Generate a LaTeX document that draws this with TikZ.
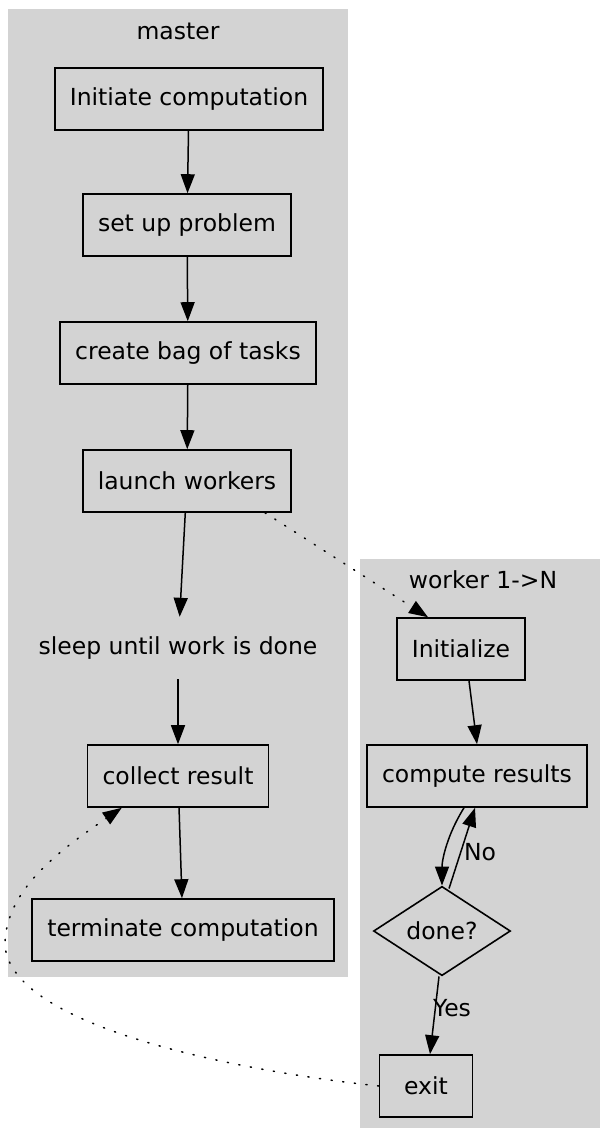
\documentclass[tikz,border=0pt]{standalone}
\usepackage{fontspec}
\setmainfont{DejaVu Sans}
\usetikzlibrary{arrows.meta,shapes.geometric}
\definecolor{clustergray}{HTML}{D3D3D3}
\tikzset{
	box/.style={draw, line width=1.6pt, inner xsep=15pt, minimum height=62pt, minimum width=93pt},
	plain/.style={inner sep=0pt, minimum height=62pt},
	decide/.style={draw, diamond, line width=1.6pt, inner sep=0pt, minimum width=137pt, minimum height=62pt},
	flow/.style={-{Triangle[length=19pt,width=14pt]}, line width=1.5pt},
	dots/.style={flow, line cap=round, dash pattern=on 1.2pt off 10.5pt},
}

\begin{document}
\begin{tikzpicture}[x=1pt, y=-1pt, font=\fontsize{23.5}{27}\selectfont]
			%%%%% START %%%%%
			\useasboundingbox (0, 0) rectangle (600, 1128);
			
			\fill[clustergray] (8, 9) rectangle (348, 977);
			\fill[clustergray] (360, 559) rectangle (600, 1128);
			
			\node (mlbl) at (178, 31) {master};
			\node (wlbl) at (483, 580) {worker 1->N};
			
			\node[box] (init) at (189, 99) {Initiate computation};
			\node[box] (setup) at (187, 225) {set up problem};
			\node[box] (bag) at (188, 353) {create bag of tasks};
			\node[box] (launch) at (187, 481) {launch workers};
			\node[plain] (sleep) at (178, 648) {sleep until work is done};
			\node[box] (collect) at (178, 776) {collect result};
			\node[box] (term) at (183, 930) {terminate computation};
			
			\node[box] (initw) at (461, 649) {Initialize};
			\node[box] (compute) at (477, 776) {compute results};
			\node[decide] (done) at (442, 931) {done?};
			\node[box] (exit) at (426, 1086) {exit};
			
			\draw[flow] (init) -- (setup);
			\draw[flow] (setup) -- (bag);
			\draw[flow] (bag) -- (launch);
			\draw[flow] (launch) -- (sleep);
			\draw[flow] (sleep) -- (collect);
			\draw[flow] (collect) -- (term);
			
			\draw[dots] ([xshift=-27pt]launch.south east) -- ([xshift=-33pt]initw.north);
			\draw[flow] ([xshift=8pt]initw.south) -- (compute.north);
			\draw[flow] ([xshift=-13pt]compute.south) .. controls (447, 835) and (442, 860) .. (done.north);
			\draw[flow] ([xshift=7pt, yshift=-3pt]done.north) -- ([xshift=-2pt]compute.south);
			\draw[flow] ([xshift=-3pt]done.south) -- ([xshift=4pt]exit.north);
			
			\node (no) at (480, 852) {No};
			\node (yes) at (452, 1008) {Yes};
			
			\draw[dots] (exit.west) .. controls (230, 1070) and (10, 1025) .. (5, 945)
				.. controls (5, 890) and (60, 850) .. ([xshift=35pt]collect.south west);
			%%%%% END %%%%%
\end{tikzpicture}
\end{document}
